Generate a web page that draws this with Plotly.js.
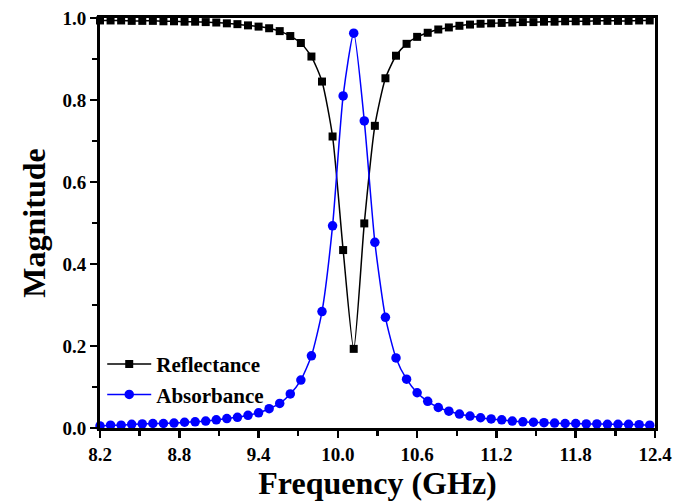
<!DOCTYPE html>
<html>
<head>
<meta charset="utf-8">
<script src="https://cdn.plot.ly/plotly-3.0.1.min.js"></script>
<style>
html,body{margin:0;padding:0;background:#fff;}
#chart{width:686px;height:501px;}
</style>
</head>
<body>
<div id="chart"></div>
<script>
// Frequency points (GHz): 8.20 to 12.36, step 0.08
const freq = [8.20,8.28,8.36,8.44,8.52,8.60,8.68,8.76,8.84,8.92,9.00,9.08,9.16,9.24,9.32,9.40,9.48,9.56,9.64,9.72,9.80,
              9.88,9.96,10.04,10.12,10.20,10.28,10.36,10.44,
              10.52,10.60,10.68,10.76,10.84,10.92,11.00,11.08,11.16,11.24,11.32,11.40,11.48,11.56,11.64,11.72,11.80,11.88,11.96,12.04,12.12,12.20,12.28,12.36];

const reflectance = [0.994,0.994,0.994,0.993,0.993,0.993,0.992,0.992,0.991,0.991,0.990,0.989,0.987,0.985,0.982,0.979,0.975,0.968,0.956,0.939,0.906,
                     0.845,0.711,0.434,0.193,0.499,0.737,0.853,0.908,
                     0.937,0.954,0.964,0.972,0.977,0.981,0.984,0.986,0.987,0.988,0.989,0.990,0.990,0.991,0.991,0.992,0.992,0.992,0.993,0.993,0.993,0.993,0.994,0.994];

const absorbance = [0.005,0.007,0.007,0.009,0.010,0.011,0.011,0.012,0.014,0.015,0.017,0.020,0.023,0.026,0.031,0.037,0.047,0.060,0.083,0.117,0.176,
                    0.284,0.493,0.810,0.963,0.749,0.453,0.270,0.171,
                    0.119,0.086,0.065,0.050,0.041,0.034,0.029,0.025,0.022,0.020,0.017,0.015,0.014,0.013,0.012,0.011,0.011,0.010,0.010,0.009,0.009,0.009,0.008,0.007];

const seriesNames = ['Reflectance', 'Absorbance'];
const xTickVals = [8.2, 8.8, 9.4, 10.0, 10.6, 11.2, 11.8, 12.4];
const yTickVals = [0.0, 0.2, 0.4, 0.6, 0.8, 1.0];

const serif = 'Liberation Serif, Times New Roman, serif';

const traces = [
  {
    x: freq, y: reflectance, name: seriesNames[0], type: 'scatter', mode: 'lines+markers',
    line: {color: '#000000', width: 1.5, shape: 'spline', smoothing: 0.6},
    marker: {symbol: 'square', size: 8, color: '#000000'},
    cliponaxis: false
  },
  {
    x: freq, y: absorbance, name: seriesNames[1], type: 'scatter', mode: 'lines+markers',
    line: {color: '#0000ff', width: 1.5, shape: 'spline', smoothing: 0.6},
    marker: {symbol: 'circle', size: 9.5, color: '#0000ff'},
    cliponaxis: false
  }
];

const axisCommon = {
  showline: true, linecolor: '#000', linewidth: 3, mirror: true,
  showgrid: false, zeroline: false,
  ticks: 'outside', ticklen: 7, tickwidth: 2.5, tickcolor: '#000',
  tickfont: {family: serif, size: 19, color: '#000', weight: 'bold'},
  tickformat: '.1f'
};

const layout = {
  width: 686, height: 501,
  margin: {l: 100, r: 31, t: 18, b: 73},
  paper_bgcolor: '#fff', plot_bgcolor: '#fff',
  showlegend: true,
  legend: {
    x: 0.004, y: 0.205, xanchor: 'left', yanchor: 'top',
    bgcolor: 'rgba(0,0,0,0)', borderwidth: 0,
    font: {family: serif, size: 21, color: '#000', weight: 'bold'},
    tracegroupgap: 0, itemwidth: 44
  },
  xaxis: Object.assign({}, axisCommon, {
    range: [8.2, 12.4], tickmode: 'array', tickvals: xTickVals,
    minor: {dtick: 0.3, tick0: 8.2, ticks: 'outside', ticklen: 5, tickwidth: 2.5, tickcolor: '#000', showgrid: false},
    title: {text: 'Frequency (GHz)', font: {family: serif, size: 32, color: '#000', weight: 'bold'}, standoff: 4}
  }),
  yaxis: Object.assign({}, axisCommon, {
    range: [0, 1], tickmode: 'array', tickvals: yTickVals,
    minor: {dtick: 0.1, tick0: 0, ticks: 'outside', ticklen: 5, tickwidth: 2.5, tickcolor: '#000', showgrid: false},
    title: {text: 'Magnitude', font: {family: serif, size: 32, color: '#000', weight: 'bold'}, standoff: 8}
  })
};

Plotly.newPlot('chart', traces, layout, {displayModeBar: false, staticPlot: true});
</script>
</body>
</html>
